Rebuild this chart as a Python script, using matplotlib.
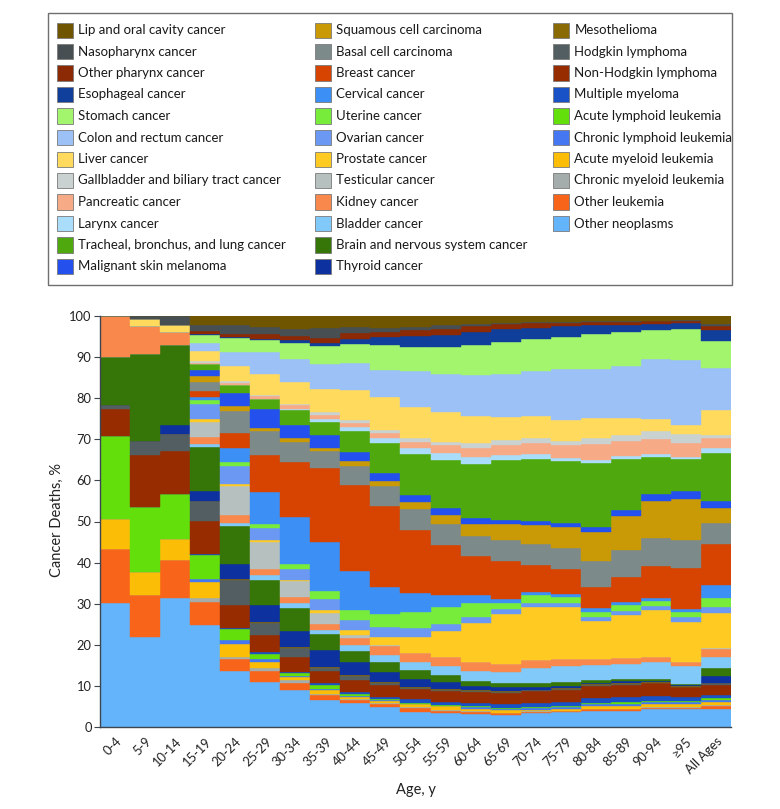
import matplotlib
matplotlib.use("Agg")
import matplotlib.pyplot as plt
from matplotlib.patches import Rectangle
import numpy as np

FONT = ["Lato", "DejaVu Sans"]
plt.rcParams["font.family"] = FONT

ages = ["0-4", "5-9", "10-14", "15-19", "20-24", "25-29", "30-34", "35-39",
        "40-44", "45-49", "50-54", "55-59", "60-64", "65-69", "70-74", "75-79",
        "80-84", "85-89", "90-94", "\u226595", "All Ages"]

# values (% of cancer deaths), stacked from top (lip) to bottom (other neoplasms)
lip = [0, 0, 0, 2.1, 2.1, 2.7, 3.1, 3.0, 2.6, 2.8, 2.6, 2.3, 2.0, 1.6, 1.5, 1.4, 1.3, 1.2, 1.2, 1.0, 2.0]
naso = [0, 0.8, 2.1, 1.6, 2.2, 1.8, 1.8, 2.3, 1.6, 1.1, 0.8, 0.8, 0.4, 0.4, 0.3, 0.2, 0.2, 0.2, 0.1, 0.1, 0.4]
pharynx = [0, 0, 0, 0.6, 0.8, 1.0, 1.0, 1.2, 1.3, 1.1, 1.5, 1.6, 1.5, 1.2, 1.0, 0.8, 0.8, 0.7, 0.6, 0.5, 1.0]
esoph = [0, 0, 0, 0.4, 0.3, 0.3, 0.6, 0.9, 1.4, 2.1, 2.6, 2.8, 3.2, 3.1, 2.7, 2.6, 2.2, 1.8, 1.5, 1.5, 2.6]
stomach = [0, 0, 0, 1.8, 3.4, 3.0, 4.0, 4.2, 4.6, 6.0, 6.0, 6.5, 7.3, 7.7, 8.0, 8.0, 8.5, 8.3, 7.1, 7.6, 6.7]
colon = [0, 0, 0, 2.1, 3.4, 5.2, 5.6, 6.1, 6.5, 6.7, 8.6, 9.3, 9.9, 10.5, 10.8, 12.3, 11.9, 12.5, 14.6, 15.8, 10.2]
liver = [0, 1.6, 1.8, 2.4, 3.7, 5.1, 5.2, 5.7, 7.3, 7.9, 7.5, 7.3, 6.7, 5.7, 5.5, 5.0, 4.9, 4.3, 2.8, 2.2, 6.1]
gallbladder = [0, 0, 0, 0.4, 0.3, 0.3, 0.4, 0.6, 0.8, 0.8, 1.0, 0.8, 1.0, 1.2, 1.0, 1.1, 1.4, 1.4, 2.1, 2.3, 0.8]
pancreatic = [0, 0, 0, 0.3, 0.5, 0.7, 1.0, 1.1, 1.0, 1.3, 1.6, 2.0, 2.2, 2.4, 2.8, 3.2, 3.8, 3.7, 3.6, 3.2, 2.4]
larynx = [0, 0, 0, 0.0, 0.2, 0.2, 0.2, 0.7, 0.8, 1.0, 1.4, 1.6, 1.8, 1.2, 1.3, 0.8, 0.8, 0.8, 0.6, 0.6, 1.2]
lung = [0, 0, 0, 1.4, 1.8, 2.4, 3.5, 3.2, 5.1, 7.5, 10.0, 11.8, 13.2, 14.6, 14.9, 15.0, 15.5, 12.3, 9.1, 7.9, 11.5]
melanoma = [0, 0, 0, 1.6, 3.2, 4.6, 3.4, 3.1, 2.4, 1.8, 1.6, 1.6, 1.4, 1.0, 1.1, 1.0, 1.2, 1.5, 1.6, 1.9, 1.7]
squamous = [0, 0, 0, 1.4, 1.1, 0.6, 0.9, 0.8, 1.1, 1.3, 1.8, 2.2, 2.9, 3.9, 4.6, 5.1, 7.0, 8.2, 9.2, 9.9, 3.8]
basal = [0, 0, 0, 2.2, 5.4, 5.8, 4.8, 4.2, 4.6, 4.8, 5.1, 5.1, 4.9, 5.0, 5.1, 5.1, 6.4, 6.7, 6.7, 6.9, 5.1]
breast = [0, 0, 0, 1.4, 3.7, 9.1, 13.4, 17.9, 20.9, 19.7, 15.2, 12.2, 9.5, 9.4, 6.5, 6.0, 5.2, 5.9, 7.9, 10.0, 10.0]
cervical = [0, 0, 0, 0.8, 3.4, 7.9, 11.4, 11.9, 9.5, 6.6, 4.6, 2.8, 2.0, 1.0, 0.8, 0.7, 0.8, 0.8, 0.6, 0.5, 3.0]
uterine = [0, 0, 0, 0.8, 1.0, 1.0, 1.3, 1.9, 2.5, 3.1, 4.1, 4.2, 3.4, 1.5, 2.0, 1.6, 1.3, 1.4, 1.3, 1.4, 2.4]
ovarian = [0, 0, 0, 3.8, 4.3, 2.7, 2.6, 2.8, 2.4, 2.4, 2.0, 1.7, 1.3, 1.1, 1.0, 1.0, 0.9, 1.0, 0.9, 1.1, 1.4]
prostate = [0, 0, 0, 0.7, 0.6, 0.6, 0.2, 0.7, 1.2, 2.0, 3.9, 6.3, 9.5, 12.2, 12.8, 12.6, 9.4, 10.6, 11.4, 9.7, 8.6]
testicular = [0, 0, 0, 3.6, 7.1, 6.5, 3.9, 2.6, 0.8, 0.3, 0.1, 0, 0, 0, 0, 0, 0, 0, 0, 0, 0.1]
kidney = [10.0, 6.9, 3.2, 1.7, 1.9, 1.6, 1.6, 1.6, 1.6, 2.2, 2.1, 2.3, 2.2, 1.8, 2.0, 1.7, 1.4, 1.4, 1.4, 1.1, 2.0]
bladder = [0, 0, 0, 0.8, 0.8, 1.1, 1.2, 0.8, 1.4, 1.6, 2.0, 2.1, 2.4, 2.9, 3.5, 3.8, 3.7, 3.7, 4.1, 4.4, 2.7]
brain = [11.6, 21.0, 19.3, 10.8, 9.2, 6.0, 5.5, 4.0, 2.9, 2.4, 2.1, 1.7, 1.3, 0.9, 1.1, 1.0, 0.6, 0.5, 0.4, 0.2, 1.9]
thyroid = [0, 0, 2.2, 2.2, 3.7, 4.3, 4.0, 4.1, 3.0, 2.5, 2.0, 1.8, 1.0, 1.0, 0.6, 0.6, 0.4, 0.4, 0.2, 0.2, 1.6]
mesothelioma = [0, 0, 0, 0, 0.1, 0.1, 0.1, 0.2, 0.4, 0.3, 0.2, 0.3, 0.2, 0.2, 0.2, 0.2, 0.2, 0.2, 0.2, 0.2, 0.2]
hodgkin = [1.1, 3.6, 4.2, 5.0, 6.2, 3.1, 2.2, 0.8, 0.9, 0.5, 0.3, 0.2, 0.2, 0.2, 0.2, 0.2, 0.2, 0.2, 0.2, 0.1, 0.3]
nhl = [6.5, 12.6, 10.6, 7.9, 5.4, 4.1, 3.6, 2.9, 2.8, 2.8, 2.6, 2.5, 2.7, 2.7, 2.9, 2.8, 3.0, 2.9, 3.1, 2.3, 2.5]
myeloma = [0, 0, 0, 0.4, 0.4, 0.5, 0.4, 0.6, 0.6, 0.6, 0.8, 0.8, 0.9, 0.9, 1.0, 1.1, 1.1, 1.4, 1.1, 1.0, 0.8]
all_leuk = [20.3, 15.8, 10.8, 5.9, 2.7, 1.1, 0.6, 0.8, 0.4, 0.3, 0.2, 0.2, 0.2, 0.2, 0.2, 0.2, 0.3, 0.3, 0.3, 0.3, 0.5]
cll = [0, 0, 0, 0.6, 1.0, 0.8, 0.3, 0.3, 0.2, 0.2, 0.2, 0.2, 0.4, 0.4, 0.4, 0.4, 0.6, 0.7, 0.5, 0.5, 0.4]
aml = [7.1, 5.7, 5.2, 3.9, 3.1, 1.4, 0.8, 0.9, 0.5, 0.4, 0.7, 0.8, 0.5, 0.6, 0.4, 0.5, 0.5, 0.5, 0.7, 0.7, 0.7]
cml = [0, 0, 0, 1.0, 0.4, 0.8, 0.7, 0.3, 0.3, 0.2, 0.2, 0.2, 0.2, 0.2, 0.2, 0.2, 0.2, 0.2, 0.2, 0.2, 0.4]
other_leuk = [13.2, 10.1, 9.1, 5.7, 3.0, 2.7, 1.8, 1.3, 0.8, 0.8, 0.9, 0.7, 0.5, 0.4, 0.3, 0.2, 0.3, 0.3, 0.4, 0.4, 0.5]
other_neo = [30.2, 21.9, 31.5, 24.7, 13.6, 10.9, 8.9, 6.5, 5.8, 4.9, 3.7, 3.3, 3.2, 2.9, 3.3, 3.6, 4.0, 4.0, 4.3, 4.3, 4.5]

names = ["Lip and oral cavity cancer", "Nasopharynx cancer", "Other pharynx cancer",
         "Esophageal cancer", "Stomach cancer", "Colon and rectum cancer", "Liver cancer",
         "Gallbladder and biliary tract cancer", "Pancreatic cancer", "Larynx cancer",
         "Tracheal, bronchus, and lung cancer", "Malignant skin melanoma",
         "Squamous cell carcinoma", "Basal cell carcinoma", "Breast cancer", "Cervical cancer",
         "Uterine cancer", "Ovarian cancer", "Prostate cancer", "Testicular cancer",
         "Kidney cancer", "Bladder cancer", "Brain and nervous system cancer", "Thyroid cancer",
         "Mesothelioma", "Hodgkin lymphoma", "Non-Hodgkin lymphoma", "Multiple myeloma",
         "Acute lymphoid leukemia", "Chronic lymphoid leukemia", "Acute myeloid leukemia",
         "Chronic myeloid leukemia", "Other leukemia", "Other neoplasms"]

series = [lip, naso, pharynx, esoph, stomach, colon, liver, gallbladder, pancreatic, larynx,
          lung, melanoma, squamous, basal, breast, cervical, uterine, ovarian, prostate,
          testicular, kidney, bladder, brain, thyroid, mesothelioma, hodgkin, nhl, myeloma,
          all_leuk, cll, aml, cml, other_leuk, other_neo]

colors = ["#705500", "#474F52", "#8B2A05", "#0F3F9A", "#A4F56E", "#9BC1F7", "#FFDA5C",
          "#C9D2D1", "#F7AA86", "#AADDF9", "#4EA80E", "#2451EE", "#C99A05", "#7C8A8A",
          "#D74300", "#3C8FF5", "#78EC3A", "#6A98F3", "#FFCB22", "#B6C0BF", "#F8884B",
          "#80C9F8", "#367507", "#0E31A0", "#8A6A05", "#535E62", "#962C00", "#1852C6",
          "#63E00C", "#4577F2", "#FBBD05", "#A4ADAC", "#F86419", "#63B4FA"]

W, H = 780, 809
fig = plt.figure(figsize=(W / 100, H / 100), dpi=100)

def fx(x):
    return x / W

def fy(y):
    return 1 - y / H

ax = fig.add_axes([fx(100), fy(727), fx(731) - fx(100), fy(316) - fy(727)])

data = np.array(series, dtype=float)
data = data / data.sum(axis=0) * 100.0
x = np.arange(len(ages))
bottom = np.zeros(len(ages))
for i in range(len(series) - 1, -1, -1):
    ax.bar(x, data[i], bottom=bottom, width=1.0, color=colors[i],
           edgecolor=colors[i], linewidth=0.3, zorder=2)
    bottom += data[i]

ax.set_xlim(-0.5, len(ages) - 0.5)
ax.set_ylim(0, 100)
ax.set_yticks(np.arange(0, 101, 10))
ax.set_xticks(x)
ax.set_xticklabels(ages, rotation=45, ha="right", rotation_mode="anchor",
                   fontsize=9.3, color="#222222")
ax.tick_params(axis="x", length=0, pad=6)
ax.tick_params(axis="y", length=4, width=0.8, pad=2, labelsize=9.3,
               colors="#3d4650", labelcolor="#222222")
for s in ["top", "right"]:
    ax.spines[s].set_visible(False)
for s in ["left", "bottom"]:
    ax.spines[s].set_color("#3d4650")
    ax.spines[s].set_linewidth(1.0)

fig.text(fx(57), fy(520), "Cancer Deaths, %", rotation=90, ha="center", va="center",
         fontsize=10.5, color="#222222")
fig.text(fx(415.5), fy(790), "Age, y", ha="center", va="center", fontsize=10.5,
         color="#222222")

# legend (manual, 3 columns: 12, 12, 10)
fig.add_artist(Rectangle((fx(48), fy(285)), fx(732) - fx(48), fy(13) - fy(285),
                         transform=fig.transFigure, facecolor="white",
                         edgecolor="#6f6f6f", linewidth=1.0))
col_x = [57, 315, 553]
col_items = [range(0, 12), range(12, 24), range(24, 34)]
for cx, items in zip(col_x, col_items):
    for r, idx in enumerate(items):
        yc = 30 + 21.5 * r
        fig.add_artist(Rectangle((fx(cx), fy(yc + 7.5)), fx(16), 15 / H,
                                 transform=fig.transFigure, facecolor=colors[idx],
                                 edgecolor="#7a7a7a", linewidth=0.6))
        fig.text(fx(cx + 21.5), fy(yc), names[idx], ha="left", va="center",
                 fontsize=9.5, color="#1a1a1a")

fig.savefig("out.png", dpi=100)
